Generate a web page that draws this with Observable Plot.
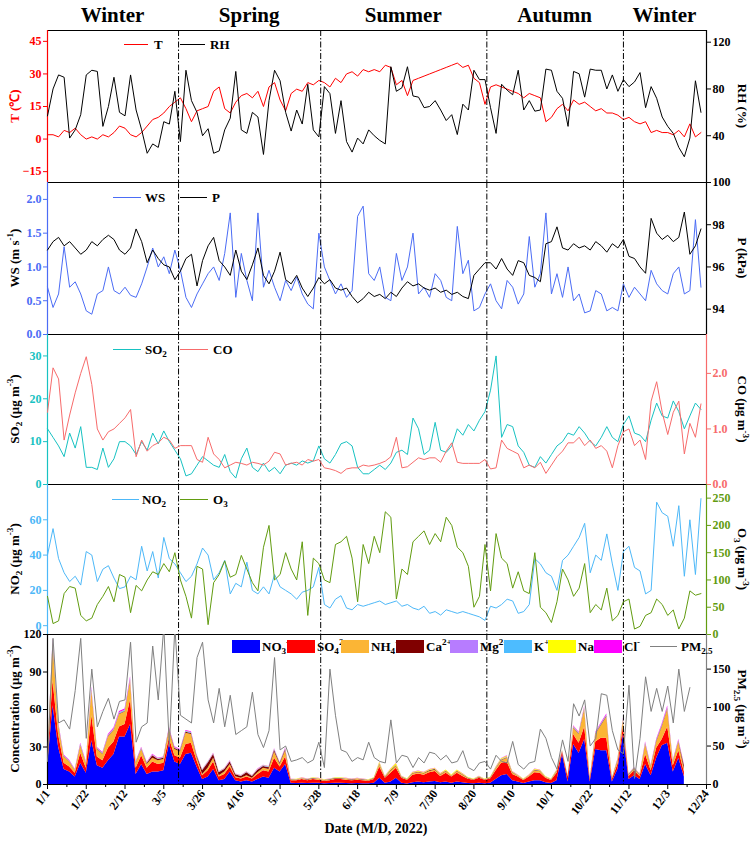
<!DOCTYPE html>
<html>
<head>
<meta charset="utf-8">
<script src="https://cdn.jsdelivr.net/npm/d3@7"></script>
<script src="https://cdn.jsdelivr.net/npm/@observablehq/plot@0.6"></script>
<style>
html,body{margin:0;padding:0;background:#fff;}
#wrap{position:relative;width:753px;height:842px;overflow:hidden;font-family:"Liberation Serif","Times New Roman",serif;color:#000;}
.layer{position:absolute;left:0;}
.layer svg{position:absolute;left:0;top:0;overflow:visible;}
.abs{position:absolute;white-space:nowrap;line-height:1;}
.season{font-weight:bold;font-size:21px;transform:translate(-50%,-50%);}
.ytitle{font-weight:bold;font-size:13px;}
.leg{font-weight:bold;font-size:13px;transform:translateY(-50%);}
.legline{position:absolute;height:0;border-top:1px solid;}
.legbox{position:absolute;width:28px;height:13px;}
sub,sup{font-size:70%;line-height:0;}
</style>
</head>
<body>
<div id="wrap"></div>
<script>
// ---------- data (day offsets from 2022-01-01) ----------
const days = d3.range(0, 355, 3);      // 0..354
const pmDays = d3.range(0, 349, 3);    // 0..348
const ionDays = d3.range(0, 346, 3);   // 0..345
const tickDays = d3.range(0, 358, 21);
const minorTickDays = d3.range(10.5, 357, 21);
const seasonBreakDates = ["2022-03-13","2022-05-29","2022-08-27","2022-11-09"];
const seasonNames = ["Winter","Spring","Summer","Autumn","Winter"];

const T = [2,2,1,4,3,5,2,0,1,0, 2,1,3,6,5,2,1,3,6,9, 10,12,15,17,19,14,8,13,14,15, 22,24,14,12,17,20,21,19,22,15,
 24,26,18,13,21,23,22,26,25,27, 26,24,28,26,30,31,29,32,31,32, 31,34,33,25,27,20,27,28,29,30, 31,32,33,34,35,33,34,28,26,16,
 24,25,24,23,22,21,19,21,20,19, 8,10,14,16,13,18,16,17,15,13, 14,12,12,11,9,10,8,7,8,3, 4,3,3,2,4,1,7,1,3];
const RH = [57,80,92,90,38,45,58,92,96,95, 48,65,90,60,57,92,62,45,25,33, 30,52,50,78,35,96,70,60,40,46, 25,27,45,55,95,45,42,60,56,24,
 70,96,87,60,44,62,50,84,45,39, 82,76,42,70,35,26,38,33,45,40, 36,33,99,78,81,99,74,73,64,65, 70,62,53,58,41,67,62,96,88,88,
 64,42,84,79,75,96,62,70,61,62, 97,96,78,72,48,95,93,73,97,96, 96,80,92,78,88,82,86,94,64,82, 72,56,48,42,30,22,38,87,60];
const WS = [0.7,0.4,0.6,1.3,0.7,0.78,0.6,0.35,0.3,0.6, 0.65,1.0,0.65,0.6,0.7,0.58,0.55,0.75,1.0,1.28, 1.0,1.15,0.9,1.25,0.95,0.55,0.4,0.6,0.75,0.9,
 1.0,0.8,1.2,1.8,0.55,1.2,0.8,0.5,1.8,0.7, 0.95,0.7,0.5,0.8,0.65,0.85,0.6,0.45,0.38,1.5, 1.0,0.8,0.6,0.75,0.55,0.65,1.75,1.9,0.9,0.8,
 1.0,0.55,0.5,1.2,0.8,1.0,1.5,0.6,0.7,0.55, 0.9,0.8,0.55,0.5,1.6,0.9,1.1,0.35,0.4,0.6, 0.75,0.5,0.38,0.8,0.7,0.45,0.6,1.45,0.7,0.9,
 1.8,0.6,0.9,0.55,1.0,0.5,0.6,0.32,0.35,0.65, 0.6,0.35,0.4,0.35,0.75,0.55,0.7,0.6,0.5,0.95, 0.75,0.65,0.6,0.9,1.0,0.6,0.65,1.7,0.7];
const P = [96.8,97.2,97.4,97.0,97.2,96.9,96.6,96.8,97.2,97.0, 97.3,97.5,97.3,96.8,96.6,96.9,97.8,97.2,96.2,96.8,
 96.4,96.1,96.0,95.4,95.8,96.4,96.6,95.1,96.3,97.0, 97.4,96.3,96.0,95.6,96.8,95.8,95.4,96.1,96.9,95.6,
 95.2,95.8,96.7,95.4,95.2,95.6,95.0,94.6,95.0,95.5, 95.2,95.4,95.0,94.9,95.0,94.6,94.3,94.5,94.8,94.6,
 94.7,94.5,94.8,94.6,95.0,95.3,95.1,95.2,95.0,94.9, 95.0,94.8,94.9,94.7,94.8,94.6,94.5,95.6,95.9,96.2,
 96.2,95.9,96.4,95.9,95.6,96.3,96.2,95.6,95.5,95.3, 97.1,97.2,97.9,96.9,96.8,97.1,96.9,97.0,96.8,97.2,
 97.0,96.7,97.1,96.9,97.3,96.5,96.4,96.0,95.7,98.3, 97.6,97.3,97.5,97.2,97.4,98.6,96.6,97.0,97.8];
const SO2 = [13,11,9,6.5,12,8.5,13.5,4,4,3.5, 8.5,4,6,10,10,9,7,10,8,12, 9.5,12.5,10,8,6,2,2.5,4.5,6.5,5.5, 4.5,4,7,3,1.5,6,8.5,4,3,5,
 3,4,2.5,4.5,5,4.5,5.5,5,5.5,9, 6,5,7,9.5,10,9,4,2.5,2.5,3.5, 4.5,3.5,5,7.5,8,7,15.5,13,7,8, 14.5,8,7.5,9,13,11.5,14,12.5,15,17,
 22,30,11,14,13.5,9,7.5,4.5,4,6.5, 5,7,9,10,12,11.5,13.5,12,10,9, 11,13.5,11,10,14,16,12,11.5,10,15, 19,16,15.5,19.5,17,13,16,19,17.5];
const CO = [1.3,2.1,1.9,0.8,1.25,1.65,2.0,2.3,1.8,1.0, 0.8,0.95,1.0,1.1,1.2,1.35,0.5,0.8,0.6,0.7, 0.75,0.85,0.8,0.65,0.7,0.7,0.7,0.45,0.4,0.85,
 0.55,0.45,0.3,0.35,0.4,0.38,0.35,0.4,0.38,0.35, 0.42,0.58,0.55,0.35,0.38,0.4,0.35,0.45,0.42,0.45, 0.3,0.28,0.25,0.2,0.28,0.3,0.3,0.35,0.33,0.35,
 0.38,0.42,0.5,0.85,0.3,0.32,0.4,0.48,0.45,0.48, 0.48,0.4,0.6,0.75,0.4,0.38,0.38,0.38,0.38,0.45, 0.28,0.3,0.8,0.65,0.6,0.55,0.3,0.35,0.3,0.4,
 0.2,0.35,0.5,0.6,0.75,0.75,0.85,0.7,0.8,0.65, 0.7,0.6,0.3,0.7,0.95,1.0,0.7,0.8,0.45,1.5, 1.85,1.3,0.9,1.3,1.5,0.55,1.1,0.85,1.45];
const NO2 = [40,55,38,30,25,28,23,42,40,25, 32,34,27,21,22,28,26,45,31,42, 27,50,38,35,30,25,28,35,44,40, 26,30,37,18,24,22,36,20,18,22,
 18,29,22,20,18,15,19,20,22,33, 12,10,15,17,10,9,12,11,12,13, 14,12,13,14,11,12,10,9,11,7, 8,6,9,8,7,8,7,6,5,3,
 11,10,12,15,14,7,8,12,38,35, 30,28,20,37,40,45,50,58,30,40, 37,52,35,20,42,45,33,31,18,20, 70,64,62,45,68,28,60,29,72];
const O3 = [70,20,25,75,88,85,35,25,30,55, 70,88,60,110,105,40,90,80,100,115, 110,130,115,150,100,70,30,125,120,18, 95,110,135,105,110,145,120,95,80,160,
 200,100,110,150,120,100,170,35,140,130, 100,95,165,170,180,140,60,165,130,180, 150,225,215,65,120,110,170,180,190,165, 185,170,215,200,160,150,125,50,70,165,
 80,185,140,130,85,115,80,75,150,50, 40,22,60,120,100,70,85,130,40,55, 45,85,25,35,60,65,10,15,35,40, 65,55,35,45,10,30,80,72,75];
const PM25 = [30,190,80,84,72,122,190,60,150,75, 95,112,85,108,110,185,55,75,80,180, 110,205,50,205,90,85,80,165,185,110,
 80,125,75,116,65,70,75,120,65,48, 70,165,45,50,30,32,35,28,32,55, 22,150,90,45,42,30,35,32,55,35,
 30,28,84,28,38,36,22,35,28,42, 40,32,38,28,30,44,22,18,28,30, 20,38,30,28,56,26,20,28,30,72,
 60,35,20,58,30,105,89,110,50,60, 118,116,70,45,40,129,8,60,140,95, 125,95,128,80,150,95,126];

const ionNames = ["NO3","SO4","NH4","Ca","Mg","K","Na","Cl"];
const ionColors = ["#0000ff","#ff0000","#fbb535","#800000","#b77cff","#4dbcff","#ffff00","#ff00ff"];
const NO3 = [14,63,30,12,10,6,17,9,35,15, 13,19,24,38,38,48,8,16,8,10, 10,11,32,18,16,24,25,14,4,6, 12,3,4,10,3,2,3,2,4,6,
 5,13,10,16,1,0.8,1,0.8,1,1, 0.7,0.8,1,1,0.8,0.7,0.8,0.7,0.6,1, 5,1,2,5,1,0.5,1.5,2,1.5,2, 2.5,1.5,2,1,2,1.5,0.8,0.6,1,0.6,
 1,4,7,8,3,2,0.8,2,3,3, 1.5,0.8,3,24,2,32,25,36,2,28, 27,27,2,12,40,4,7,4,16,7, 21,31,33,10,21,6];
const SO4 = [3,20,10,5,4,3,8,4,20,7, 6,10,10,8,10,20,5,7,5,8, 6,6,5,5,5,8,8,5,3,5, 6,3,4,4,2.5,2.5,3,2.5,4,5,
 5,8,4,6,2,2.3,3,2.3,3,2.5, 2,2.3,3,3,2.7,2.4,2.7,2.4,2,3, 9,4,7,8,4,3,6,6.5,6,7.5, 8,5,7,5,7,5,3.5,2.8,4,2.8,
 3.5,7,10,10,5,4,2.5,4,6.5,6, 3.5,2.5,6,2,4,8,8,10,2,6, 10,10,2,4,6,2.5,4,2.5,8,4, 8,5,13,5,6,4];
const NH4 = [2,30,8,5,4,2,6,4,20,6, 5,9,9,10,10,15,4,5,3,3, 3,3,7,5,5,9,7,3,1,2, 3,1,2,2,0.8,0.5,1,0.5,1.5,2,
 2,5,2,5,0.3,0.3,0.4,0.4,0.5,0.5, 0.4,0.4,0.5,0.5,0.5,0.4,0.5,0.4,0.4,0.5, 2,0.5,1.5,1.5,0.5,0.3,1,1,1,1, 1,1,1.2,0.6,1.2,1,0.4,0.3,0.5,0.3,
 0.4,1.5,2,3,1.2,0.6,0.4,0.6,1.5,1.2, 0.6,0.4,1.2,0.5,0.6,5,7,14,0.5,6, 10,17,0.5,3,5,1,1.5,1,8,3, 5,10,14,3,7,2];
const Ca = [0.3,0.8,0.5,0.4,0.3,0.3,0.4,0.3,0.6,0.4, 0.4,0.5,0.5,0.5,0.5,0.6,0.4,0.5,0.8,2, 1,1,0.6,1,0.8,0.8,0.8,1,3,4, 3,2.5,2,2,1.5,1.5,2.5,1.5,2,1.5,
 1.5,1.5,1,1,0.3,0.3,0.3,0.3,0.3,0.3, 0.2,0.3,0.3,0.3,0.3,0.3,0.3,0.3,0.3,0.3, 0.5,0.3,0.5,0.5,0.3,0.2,0.4,0.4,0.4,0.5, 0.5,0.4,0.5,0.3,0.5,0.4,0.3,0.2,0.3,0.2,
 0.3,0.4,0.5,0.5,0.4,0.3,0.2,0.3,0.4,0.4, 0.3,0.2,0.4,0.2,0.3,0.5,0.5,0.6,0.3,0.5, 0.6,0.6,0.3,0.4,0.5,0.3,0.4,0.3,0.5,0.5, 0.6,0.6,0.7,0.5,0.5,3];
const Mg = [0.1,0.2,0.1,0.1,0.1,0.1,0.1,0.1,0.2,0.1, 0.1,0.1,0.1,0.1,0.1,0.2,0.1,0.1,0.1,0.2, 0.1,0.1,0.1,0.1,0.1,0.1,0.1,0.1,0.2,0.3, 0.2,0.2,0.2,0.2,0.1,0.1,0.2,0.1,0.2,0.2,
 0.2,0.2,0.1,0.1,0.05,0.05,0.05,0.05,0.05,0.05, 0.05,0.05,0.05,0.05,0.05,0.05,0.05,0.05,0.05,0.05, 0.1,0.05,0.1,0.1,0.05,0.05,0.05,0.05,0.05,0.05, 0.05,0.05,0.05,0.05,0.05,0.05,0.05,0.05,0.05,0.05,
 0.05,0.1,0.1,0.1,0.05,0.05,0.05,0.05,0.05,0.05, 0.05,0.05,0.05,0.1,0.05,0.1,0.1,0.1,0.05,0.1, 0.1,0.1,0.05,0.1,0.1,0.05,0.05,0.05,0.1,0.1, 0.1,0.1,0.1,0.1,0.1,0.2];
const K = [0.3,1.0,0.6,0.4,0.3,0.3,0.5,0.3,0.8,0.4, 0.4,0.5,0.5,0.6,0.6,0.8,0.3,0.4,0.3,0.3, 0.3,0.3,0.4,0.4,0.4,0.5,0.5,0.3,0.2,0.3, 0.3,0.2,0.2,0.3,0.2,0.2,0.2,0.2,0.2,0.3,
 0.3,0.3,0.3,0.4,0.1,0.1,0.1,0.1,0.1,0.1, 0.1,0.1,0.1,0.1,0.1,0.1,0.1,0.1,0.1,0.1, 0.2,0.1,0.2,0.2,0.1,0.1,0.1,0.1,0.1,0.1, 0.1,0.1,0.1,0.1,0.1,0.1,0.1,0.1,0.1,0.1,
 0.1,0.2,0.2,0.3,0.1,0.1,0.1,0.1,0.2,0.2, 0.1,0.1,0.2,0.3,0.1,0.5,0.4,0.6,0.1,0.4, 0.5,0.5,0.1,0.3,0.5,0.2,0.2,0.2,0.4,0.3, 0.5,0.5,0.6,0.3,0.4,0.3];
const Na = [0.2,0.4,0.3,0.2,0.2,0.2,0.2,0.2,0.3,0.2, 0.2,0.2,0.2,0.3,0.3,0.3,0.2,0.2,0.2,0.2, 0.2,0.2,0.2,0.2,0.2,0.2,0.2,0.2,0.2,0.2, 0.2,0.2,0.2,0.2,0.2,0.2,0.2,0.2,0.2,0.2,
 0.2,0.2,0.2,0.2,0.3,0.3,0.4,0.3,0.4,0.4, 0.3,0.3,0.4,0.4,0.4,0.3,0.4,0.3,0.3,0.4, 1.0,0.5,1.0,1.5,0.5,0.4,0.6,0.6,0.6,0.7, 0.7,0.6,0.7,0.5,0.7,0.6,0.4,0.3,0.5,0.3,
 0.4,0.6,0.8,0.8,0.5,0.4,0.3,0.4,0.5,0.5, 0.3,0.3,0.5,0.3,0.3,0.3,0.3,0.4,0.2,0.3, 0.3,0.3,0.2,0.3,0.3,0.2,0.2,0.2,0.3,0.3, 0.3,0.3,0.3,0.2,0.3,0.3];
const Cl = [0.5,1.5,1.0,0.6,0.5,0.4,0.8,0.5,1.2,0.6, 0.5,0.8,0.9,1.0,1.0,1.4,0.5,0.6,0.4,0.5, 0.4,0.4,0.8,0.5,0.5,0.7,0.6,0.4,0.3,0.3, 0.4,0.2,0.3,0.4,0.2,0.2,0.2,0.2,0.3,0.3,
 0.3,0.4,0.3,0.5,0.1,0.1,0.1,0.1,0.1,0.1, 0.1,0.1,0.1,0.1,0.1,0.1,0.1,0.1,0.1,0.1, 0.2,0.1,0.2,0.2,0.1,0.1,0.1,0.1,0.1,0.1, 0.1,0.1,0.1,0.1,0.1,0.1,0.1,0.1,0.1,0.1,
 0.1,0.2,0.3,0.3,0.2,0.1,0.1,0.1,0.2,0.2, 0.1,0.1,0.2,0.2,0.1,0.6,0.6,0.8,0.1,0.6, 0.8,1.0,0.1,0.4,0.6,0.2,0.3,0.2,0.8,0.4, 0.8,1.0,1.2,0.4,0.8,0.5];
const ionSeries = [NO3,SO4,NH4,Ca,Mg,K,Na,Cl];

// ---------- helpers ----------
const W = 753, ML = 47, MR = 47;
const toDate = d => new Date(Date.UTC(2022,0,1) + d*86400000);
const xDomain = [toDate(0), new Date(Date.UTC(2022,11,24))];
const FONT = "'Liberation Serif','Times New Roman',serif";
const wrap = document.getElementById("wrap");
const series = (ds, vals) => vals.map((v,i) => ({date: toDate(ds[i]), value: v}));
const breaks = seasonBreakDates.map(s => new Date(s + "T00:00:00Z"));

function base(h, mb) {
  return {
    width: W, height: h + mb, marginLeft: ML, marginRight: MR, marginTop: 0, marginBottom: mb,
    style: {background: "transparent", overflow: "visible", fontFamily: FONT, fontSize: "12px", fontWeight: "bold"}
  };
}
function layer(top, h) {
  const d = document.createElement("div");
  d.className = "layer"; d.style.top = top + "px"; d.style.height = h + "px"; d.style.width = W + "px";
  wrap.appendChild(d); return d;
}
function html(cls, content, left, top, extra) {
  const d = document.createElement("div");
  d.className = "abs " + cls; d.innerHTML = content;
  d.style.left = left + "px"; d.style.top = top + "px";
  if (extra) Object.assign(d.style, extra);
  wrap.appendChild(d); return d;
}
function ytitle(content, cx, cy, rot, color) {
  html("ytitle", content, cx, cy, {transform: `translate(-50%,-50%) rotate(${rot}deg)`, color: color || "#000"});
}
function legLine(x1, x2, y, color, label, tx) {
  const l = document.createElement("div");
  l.className = "legline"; l.style.left = x1 + "px"; l.style.top = y + "px"; l.style.width = (x2 - x1) + "px"; l.style.borderTopColor = color;
  wrap.appendChild(l);
  html("leg", label, tx, y);
}

function dualPanel(cfg) {
  const mb = cfg.mb || 0;
  const el = layer(cfg.top, cfg.h + mb);
  const left = Plot.plot({
    ...base(cfg.h, mb),
    x: {type: "utc", domain: xDomain, axis: null},
    y: {domain: cfg.leftDomain},
    color: cfg.color,
    marks: [
      ...cfg.leftMarks,
      Plot.ruleX(breaks, {stroke: "#000", strokeWidth: 1, strokeDasharray: "6,2,1.5,2"}),
      Plot.frame({stroke: "#000", strokeWidth: 1}),
      Plot.ruleX([xDomain[0]], {stroke: cfg.leftAxisColor, strokeWidth: 1.2}),
      Plot.axisY({anchor: "left", ticks: cfg.leftTicks, tickSize: 4, tickPadding: 2, color: cfg.leftColor, label: null, tickFormat: cfg.leftFormat}),
      ...(cfg.extra || [])
    ]
  });
  const right = Plot.plot({
    ...base(cfg.h, mb),
    x: {type: "utc", domain: xDomain, axis: null},
    y: {domain: cfg.rightDomain},
    marks: [
      ...cfg.rightMarks,
      Plot.ruleX([xDomain[1]], {stroke: cfg.rightAxisColor, strokeWidth: 1.2}),
      Plot.axisY({anchor: "right", ticks: cfg.rightTicks, tickSize: 4, tickPadding: 2, color: cfg.rightColor, label: null, tickFormat: cfg.rightFormat})
    ]
  });
  el.appendChild(left); el.appendChild(right);
  return left;
}

const C = {T: "#ff0000", RH: "#000000", WS: "#4b6cf5", P: "#000000", SO2: "#17c2c2", CO: "#f76b6b", NO2: "#4db8f8", O3: "#629c10", PM: "#808080"};
const lineOpts = (color) => ({x: "date", y: "value", stroke: color, strokeWidth: 1});

// ---------- panel 1: T & RH ----------
const p1 = dualPanel({
  top: 30, h: 152, leftDomain: [-20, 50], rightDomain: [0, 130],
  leftMarks: [Plot.lineY(series(days, T), lineOpts(C.T))],
  rightMarks: [Plot.lineY(series(days, RH), lineOpts(C.RH))],
  leftTicks: [-15,0,15,30,45], rightTicks: [40,80,120],
  leftColor: C.T, leftAxisColor: C.T, rightColor: "#000", rightAxisColor: "#000"
});
// ---------- panel 2: WS & P ----------
dualPanel({
  top: 182, h: 152, leftDomain: [0, 2.25], rightDomain: [92.8, 100],
  leftMarks: [Plot.lineY(series(days, WS), lineOpts(C.WS))],
  rightMarks: [Plot.lineY(series(days, P), lineOpts(C.P))],
  leftTicks: [0,0.5,1,1.5,2], leftFormat: d3.format(".1f"), rightTicks: [94,96,98,100],
  leftColor: C.WS, leftAxisColor: C.WS, rightColor: "#000", rightAxisColor: "#000"
});
// ---------- panel 3: SO2 & CO ----------
dualPanel({
  top: 334, h: 150, leftDomain: [0, 35], rightDomain: [0, 2.7],
  leftMarks: [Plot.lineY(series(days, SO2), lineOpts(C.SO2))],
  rightMarks: [Plot.lineY(series(days, CO), lineOpts(C.CO))],
  leftTicks: [0,10,20,30], rightTicks: [0,1,2],
  leftColor: C.SO2, leftAxisColor: C.SO2, rightColor: C.CO, rightAxisColor: C.CO
});
// ---------- panel 4: NO2 & O3 ----------
dualPanel({
  top: 484, h: 150, leftDomain: [-5, 80], rightDomain: [0, 275],
  leftMarks: [Plot.lineY(series(days, NO2), lineOpts(C.NO2))],
  rightMarks: [Plot.lineY(series(days, O3), lineOpts(C.O3))],
  leftTicks: [0,20,40,60], rightTicks: [0,50,100,150,200,250],
  leftColor: C.NO2, leftAxisColor: C.NO2, rightColor: C.O3, rightAxisColor: C.O3
});
// ---------- panel 5: ions & PM2.5 ----------
const ionData = ionNames.flatMap((name, k) => ionSeries[k].map((v, i) => ({date: toDate(ionDays[i]), ion: name, value: v})));
const fmtMD = d => `${d.getUTCMonth()+1}/${d.getUTCDate()}`;
dualPanel({
  top: 634, h: 150, mb: 58, leftDomain: [0, 120], rightDomain: [0, 195],
  color: {domain: ionNames, range: ionColors},
  leftMarks: [Plot.areaY(ionData, {x: "date", y: "value", z: "ion", fill: "ion"})],
  rightMarks: [Plot.lineY(series(pmDays, PM25), {...lineOpts(C.PM), clip: true})],
  leftTicks: [0,30,60,90,120], rightTicks: [0,50,100,150],
  leftColor: "#000", leftAxisColor: "#000", rightColor: "#000", rightAxisColor: C.PM,
  extra: [
    Plot.axisX({ticks: minorTickDays.map(toDate), tickSize: 3, tickFormat: () => "", label: null}),
    Plot.axisX({ticks: tickDays.map(toDate), tickSize: 5, tickPadding: 2, tickRotate: -52, tickFormat: fmtMD, label: null, fontSize: 12})
  ]
});

// ---------- season labels ----------
const xs = p1.scale("x");
const bounds = [xDomain[0], ...breaks, xDomain[1]];
seasonNames.forEach((n, i) => {
  const cx = (xs.apply(bounds[i]) + xs.apply(bounds[i+1])) / 2;
  html("season", n, cx, 15);
});

// ---------- axis titles ----------
ytitle("T (&#8451;)", 14, 106, -90, C.T);
ytitle("RH (%)", 742, 106, 90);
ytitle("WS (m s<sup>-1</sup>)", 14, 258, -90);
ytitle("P (kPa)", 742, 258, 90);
ytitle("SO<sub>2</sub> (&mu;g m<sup>-3</sup>)", 14, 409, -90);
ytitle("CO (&mu;g m<sup>-3</sup>)", 742, 409, 90);
ytitle("NO<sub>2</sub> (&mu;g m<sup>-3</sup>)", 14, 559, -90);
ytitle("O<sub>3</sub> (&mu;g m<sup>-3</sup>)", 742, 559, 90);
ytitle("Concentration (&mu;g m<sup>-3</sup>)", 14, 709, -90);
ytitle("PM<sub>2.5</sub> (&mu;g m<sup>-3</sup>)", 742, 709, 90);
html("ytitle", "Date (M/D, 2022)", 376, 829, {transform: "translate(-50%,-50%)", fontSize: "14px"});

// ---------- legends ----------
legLine(124, 148, 44, C.T, "T", 154);
legLine(180, 205, 44, C.RH, "RH", 210);
legLine(113, 141, 197, C.WS, "WS", 145);
legLine(180, 207, 197, C.P, "P", 212);
legLine(113, 141, 349, C.SO2, "SO<sub>2</sub>", 145);
legLine(180, 208, 349, C.CO, "CO", 213);
legLine(112, 139, 499, C.NO2, "NO<sub>2</sub>", 142);
legLine(180, 208, 499, C.O3, "O<sub>3</sub>", 213);

const ionLabels = ["NO<sub>3</sub><sup>-</sup>","SO<sub>4</sub><sup>2-</sup>","NH<sub>4</sub><sup>+</sup>","Ca<sup>2+</sup>","Mg<sup>2+</sup>","K<sup>+</sup>","Na<sup>+</sup>","Cl<sup>-</sup>"];
const ionLegX = [232, 287, 341, 396, 450, 504, 548, 594];
ionLabels.forEach((lab, i) => {
  const b = document.createElement("div");
  b.className = "legbox"; b.style.left = ionLegX[i] + "px"; b.style.top = "640px"; b.style.background = ionColors[i];
  wrap.appendChild(b);
  html("leg", lab, ionLegX[i] + 30, 646);
});
legLine(650, 677, 646, C.PM, "PM<sub>2.5</sub>", 681);
</script>
</body>
</html>
